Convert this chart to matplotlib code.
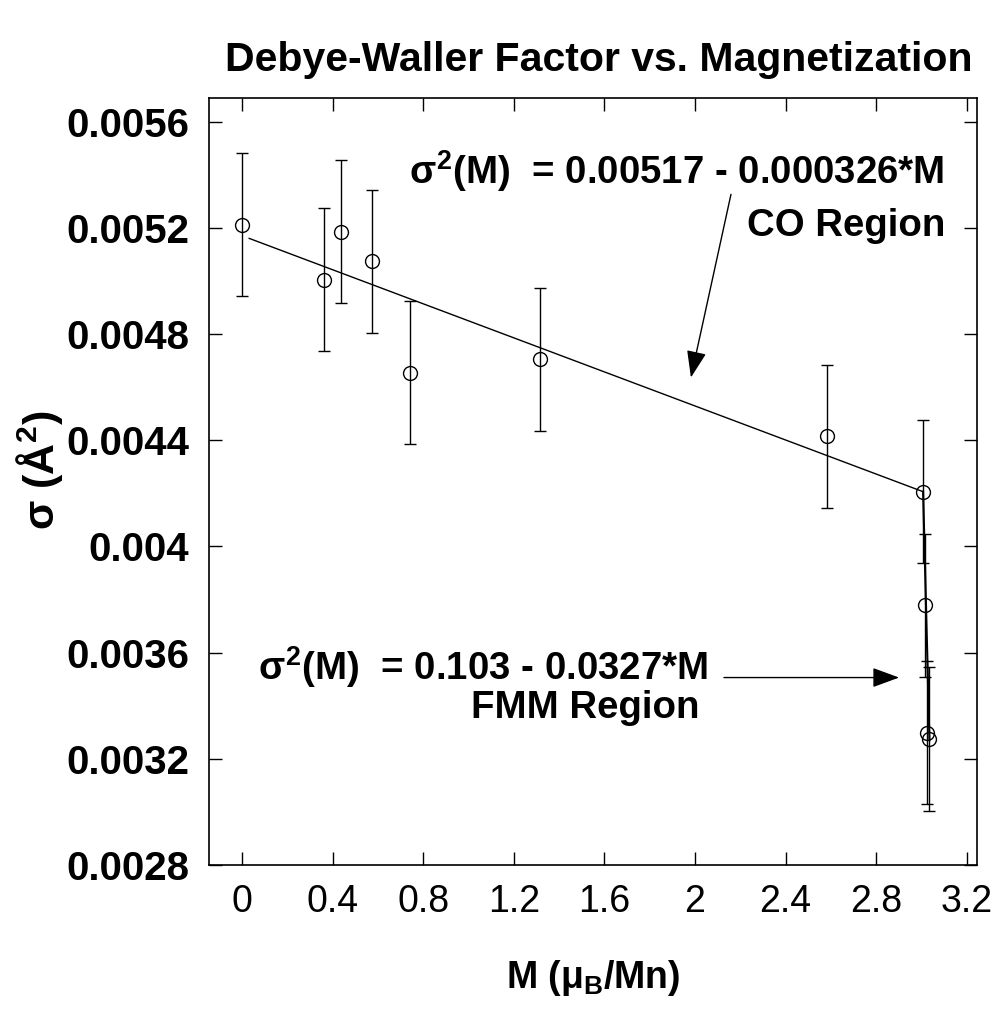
import matplotlib
matplotlib.use("Agg")
import matplotlib.pyplot as plt

plt.rcParams['font.family'] = ['Liberation Sans', 'DejaVu Sans']
plt.rcParams['mathtext.fontset'] = 'custom'
plt.rcParams['mathtext.rm'] = 'Liberation Sans:bold'
plt.rcParams['mathtext.it'] = 'Liberation Sans:bold'
plt.rcParams['mathtext.bf'] = 'Liberation Sans:bold'

# Data
M = [0.0, 0.36, 0.437, 0.571, 0.739, 1.315, 2.583, 3.008, 3.018, 3.024, 3.034]
sigma2 = [0.005212, 0.005004, 0.005185, 0.005073, 0.004654, 0.004704,
          0.004415, 0.004206, 0.003778, 0.003299, 0.003275]
err = [0.00027] * len(M)

co_fit_x = [0.03, 3.008]
co_fit_y = [0.00516, 0.004206]
fmm_fit_x = [3.008, 3.036]
fmm_fit_y = [0.004206, 0.00327]

xticks = [0, 0.4, 0.8, 1.2, 1.6, 2.0, 2.4, 2.8, 3.2]
xticklabels = ['0', '0.4', '0.8', '1.2', '1.6', '2', '2.4', '2.8', '3.2']
yticks = [0.0028, 0.0032, 0.0036, 0.0040, 0.0044, 0.0048, 0.0052, 0.0056]
yticklabels = ['0.0028', '0.0032', '0.0036', '0.004', '0.0044', '0.0048', '0.0052', '0.0056']

fig = plt.figure(figsize=(9.98, 10.11), dpi=100)
ax = fig.add_axes([0.2091, 0.1444, 0.7696, 0.759])

ax.errorbar(M, sigma2, yerr=err, fmt='o', mfc='none', mec='black', ms=10,
            mew=1.0, ecolor='black', elinewidth=1.0, capsize=4.5, capthick=1.0,
            zorder=3)
ax.plot(co_fit_x, co_fit_y, color='black', lw=1.0, zorder=2)
ax.plot(fmm_fit_x, fmm_fit_y, color='black', lw=1.5, zorder=2)

ax.set_xlim(-0.149, 3.245)
ax.set_ylim(0.0028, 0.00569)
ax.set_xticks(xticks)
ax.set_xticklabels(xticklabels, fontsize=27)
ax.set_yticks(yticks)
ax.set_yticklabels(yticklabels, fontsize=29, fontweight='bold')
ax.tick_params(direction='in', length=9.5, width=1.0, top=True, right=True,
               pad=14)
for s in ax.spines.values():
    s.set_linewidth(1.2)

# annotations
ax.text(0.736, 0.005367, r'$\sigma^2$(M)  = 0.00517 - 0.000326*M',
        fontsize=27.6, fontweight='bold', ha='left', va='baseline')
ax.text(3.105, 0.005168, 'CO Region', fontsize=27.6, fontweight='bold',
        ha='right', va='baseline')
ax.text(0.069, 0.003497, r'$\sigma^2$(M)  = 0.103 - 0.0327*M',
        fontsize=27.6, fontweight='bold', ha='left', va='baseline')
ax.text(1.514, 0.003354, 'FMM Region', fontsize=27.6, fontweight='bold',
        ha='center', va='baseline')

arrow = dict(arrowstyle='-|>,head_length=1.66,head_width=0.61',
             mutation_scale=10, color='black', lw=1.0, shrinkA=0, shrinkB=0)
ax.annotate('', xy=(1.982, 0.004636), xytext=(2.159, 0.005326),
            arrowprops=arrow)
ax.annotate('', xy=(2.902, 0.003506), xytext=(2.128, 0.003506),
            arrowprops=arrow)

fig.text(0.600, 1 - 60 / 1011, 'Debye-Waller Factor vs. Magnetization',
         fontsize=29.5, fontweight='bold', ha='center', va='center')
fig.text(0.594, 1 - 978 / 1011, r'M ($\mu_{B}$/Mn)', fontsize=27,
         fontweight='bold', ha='center', va='center')
fig.text(0.040, 1 - 470 / 1011, r'$\sigma$ (Å$^2$)', fontsize=31,
         fontweight='bold', ha='center', va='center', rotation=90)

fig.savefig('out.png', dpi=100)
